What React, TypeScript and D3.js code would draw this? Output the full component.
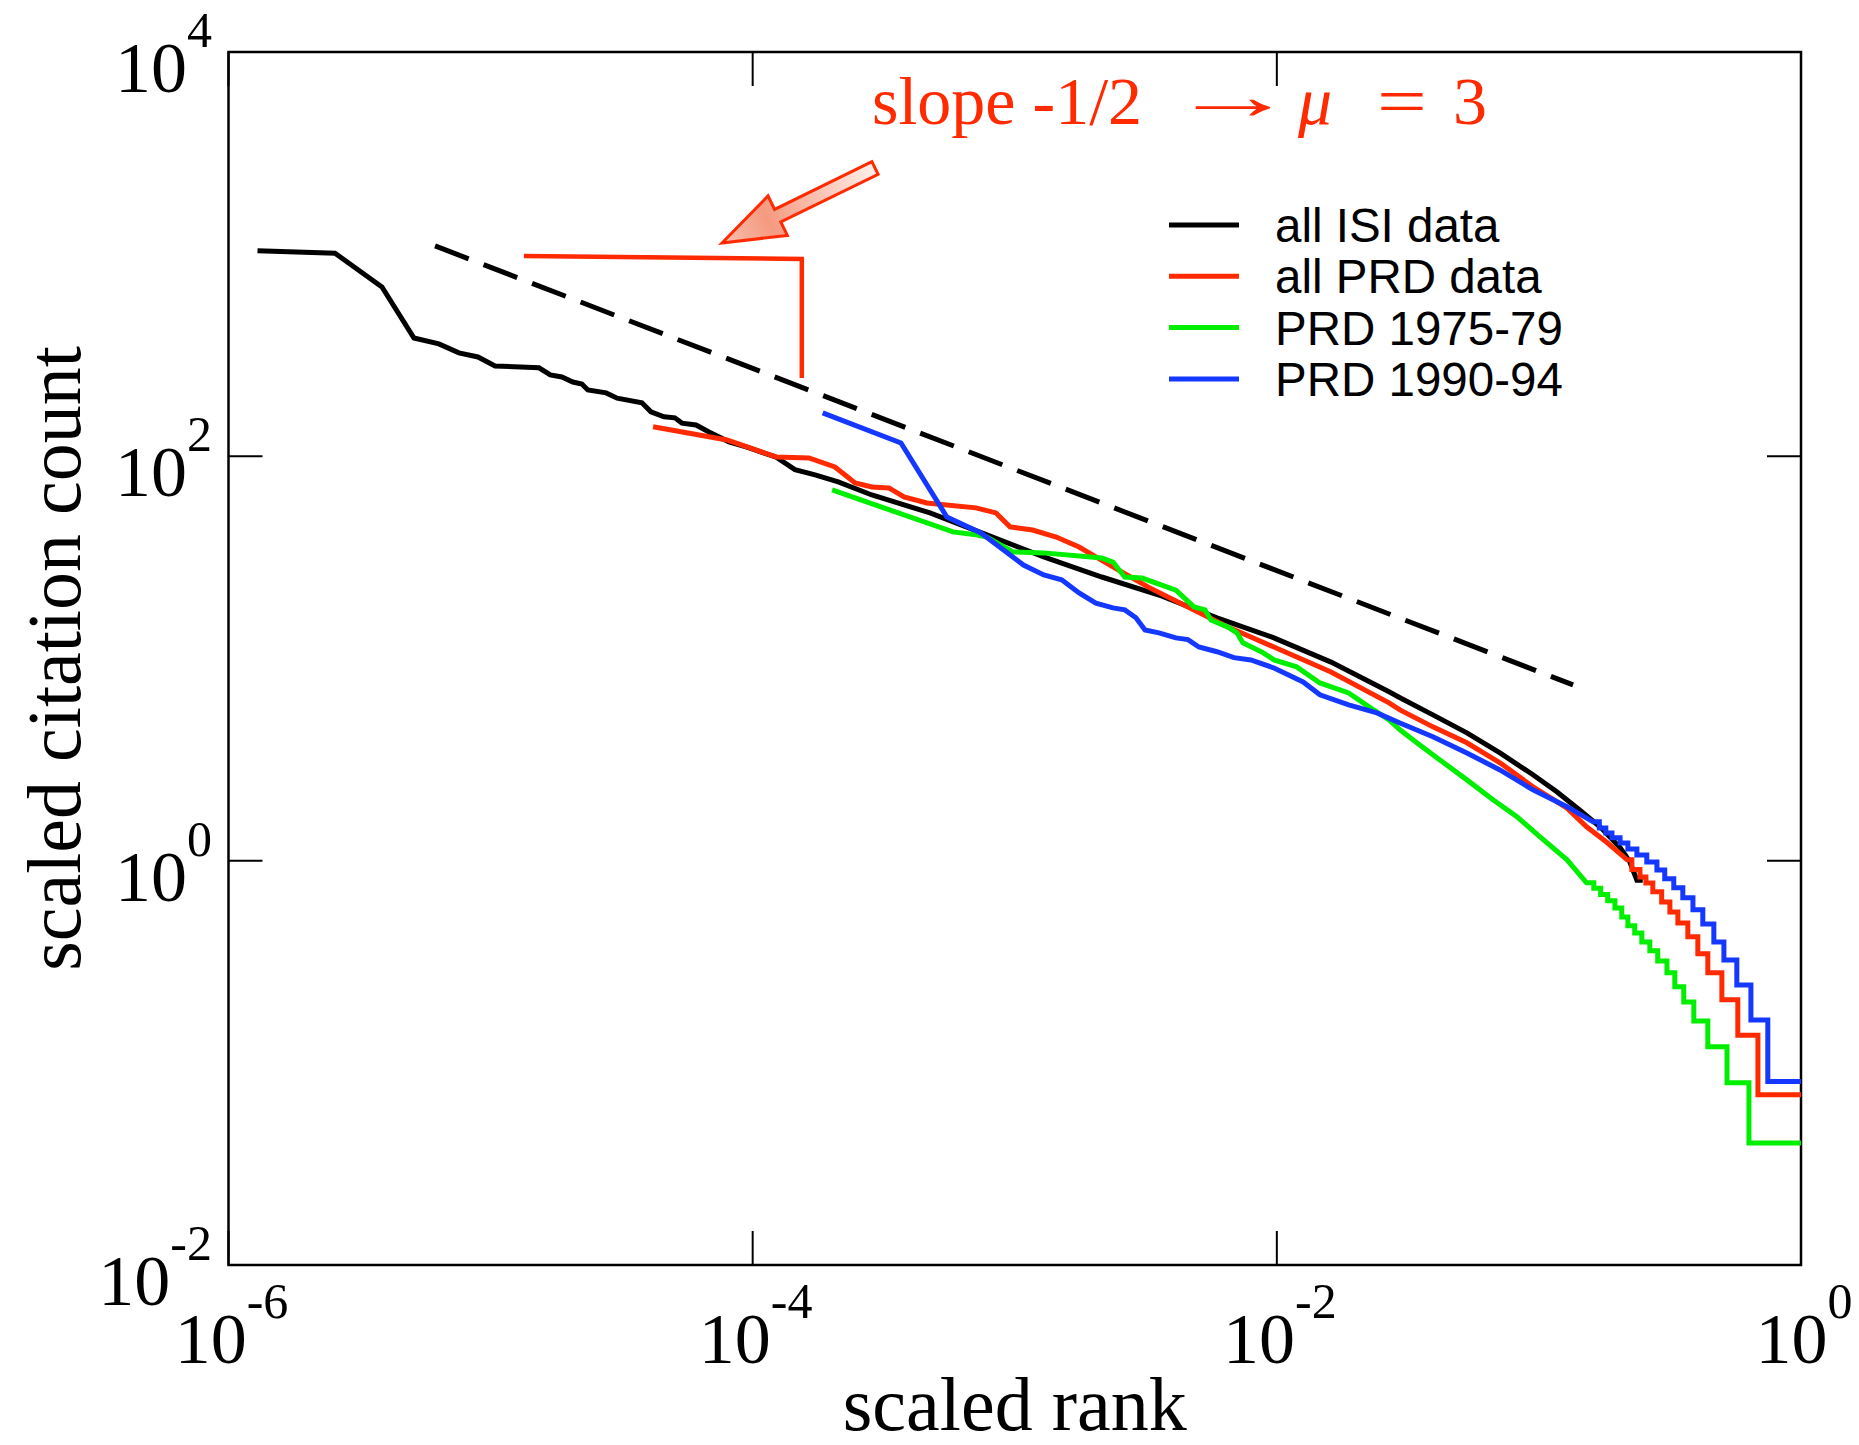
import React from "react";
import * as d3 from "d3";

type Pt = [number, number];

// log-log axes: scaled rank vs scaled citation count
const xTicks = [1e-6, 1e-4, 1e-2, 1];
const xTickExp = ["-6", "-4", "-2", "0"];
const yTicks = [1e-2, 1, 1e2, 1e4];
const yTickExp = ["-2", "0", "2", "4"];

const seriesNames = ["all ISI data", "all PRD data", "PRD 1975-79", "PRD 1990-94"];
const seriesColors = ["#000000", "#ff2a00", "#00ee00", "#1438ff"];

// --- all ISI data (rank, count) ---
const isiBody: Pt[] = [
  [1.29e-6, 1040], [2.55e-6, 1010], [3.85e-6, 688], [5.1e-6, 385], [6.35e-6, 360],
  [7.57e-6, 325], [8.95e-6, 310], [1.04e-5, 280], [1.53e-5, 274], [1.69e-5, 253],
  [1.87e-5, 247], [2.06e-5, 233], [2.23e-5, 228], [2.35e-5, 213], [2.76e-5, 206],
  [3.04e-5, 194], [3.78e-5, 184], [4.09e-5, 166], [4.59e-5, 157], [5.05e-5, 155],
  [5.37e-5, 146], [6.08e-5, 143], [6.81e-5, 132], [8.12e-5, 118], [9.51e-5, 111],
  [1.1e-4, 104], [1.23e-4, 99], [1.45e-4, 86], [1.73e-4, 81], [2.12e-4, 74.7],
  [2.85e-4, 64.4], [4.75e-4, 52.5], [7.83e-4, 40.9], [1.29e-3, 31.8], [2.15e-3, 25.3],
  [3.55e-3, 20.6], [5.91e-3, 15.9], [9.75e-3, 12.65], [1.61e-2, 9.6], [2.68e-2, 6.84],
  [2.95e-2, 6.4], [3.94e-2, 5.26], [5.31e-2, 4.29], [7.1e-2, 3.41], [9.49e-2, 2.66],
  [0.117, 2.19], [0.143, 1.78], [0.171, 1.47], [0.204, 1.16], [0.222, 0.99],
  [0.2365, 0.8], [0.249, 0.8],
];
const isiTail: Pt[] = [];

// --- all PRD data ---
const prdBody: Pt[] = [
  [4.17e-5, 140], [7.98e-5, 120.5], [1.23e-4, 99.3], [1.64e-4, 98.2], [2.06e-4, 88.6],
  [2.46e-4, 73.9], [2.85e-4, 70.6], [3.31e-4, 69.8], [3.78e-4, 63.0], [4.62e-4, 58.8],
  [7.11e-4, 55.6], [8.48e-4, 52.5], [9.59e-4, 44.8], [1.17e-3, 43.2], [1.44e-3, 39.9],
  [1.76e-3, 35.6], [2.04e-3, 31.8], [2.37e-3, 28.4], [3.22e-3, 22.6], [4.58e-3, 18.0],
  [6.51e-3, 14.3], [9.75e-3, 11.4], [1.61e-2, 8.58], [2.68e-2, 6.03], [2.95e-2, 5.57],
  [3.94e-2, 4.59], [5.31e-2, 3.83], [7.1e-2, 3.05], [9.49e-2, 2.32], [0.128, 1.82],
  [0.152, 1.47], [0.182, 1.23], [0.217, 1.01],
];
const prdTail: Pt[] = [
  [0.217, 1.01], [0.2263, 0.904], [0.243, 0.831], [0.256, 0.776], [0.272, 0.701],
  [0.294, 0.625], [0.316, 0.558], [0.339, 0.492], [0.37, 0.42], [0.404, 0.346],
  [0.441, 0.279], [0.499, 0.205], [0.574, 0.137], [0.685, 0.0695], [1.0, 0.0695],
];

// --- PRD 1975-79 ---
const prd75Body: Pt[] = [
  [2.01e-4, 68.2], [5.81e-4, 42.3], [7.11e-4, 40.9], [7.83e-4, 39.9], [9.84e-4, 33.7],
  [1.29e-3, 33.3], [2.15e-3, 31.4], [2.37e-3, 30.0], [2.63e-3, 25.3], [3.06e-3, 25.0],
  [4.12e-3, 21.8], [4.83e-3, 18.0], [5.32e-3, 17.4], [5.61e-3, 15.5], [6.51e-3, 14.3],
  [7.04e-3, 13.4], [7.42e-3, 11.95], [8.85e-3, 10.7], [9.75e-3, 9.84], [1.19e-2, 9.09],
  [1.46e-2, 7.57], [1.88e-2, 6.76], [2.19e-2, 5.9], [2.68e-2, 4.97], [2.95e-2, 4.44],
  [3.42e-2, 3.83], [4.19e-2, 3.15], [5.31e-2, 2.51], [6.68e-2, 2.0], [8.24e-2, 1.65],
  [0.101, 1.31], [0.128, 1.01], [0.152, 0.777],
];
const prd75Tail: Pt[] = [
  [0.152, 0.777], [0.162, 0.73], [0.172, 0.68], [0.183, 0.633], [0.195, 0.584],
  [0.207, 0.527], [0.2185, 0.476], [0.232, 0.439], [0.247, 0.396], [0.265, 0.358],
  [0.284, 0.319], [0.308, 0.279], [0.33, 0.238], [0.357, 0.2], [0.39, 0.161],
  [0.441, 0.12], [0.522, 0.0796], [0.633, 0.0401], [1.0, 0.0401],
];

// --- PRD 1990-94 ---
const prd90Body: Pt[] = [
  [1.85e-4, 164], [3.68e-4, 116.5], [5.51e-4, 50.1], [7.43e-4, 41.8], [1.08e-3, 29.0],
  [1.29e-3, 25.9], [1.51e-3, 24.5], [1.76e-3, 21.1], [2.04e-3, 18.8], [2.37e-3, 17.8],
  [2.63e-3, 17.4], [2.9e-3, 15.9], [3.14e-3, 13.85], [3.55e-3, 13.4], [4.12e-3, 12.65],
  [4.58e-3, 12.4], [5.04e-3, 11.4], [5.91e-3, 10.8], [6.86e-3, 10.1], [7.96e-3, 9.84],
  [9.75e-3, 8.98], [1.26e-2, 7.66], [1.46e-2, 6.61], [1.88e-2, 5.9], [2.41e-2, 5.38],
  [2.95e-2, 4.8], [3.94e-2, 4.1], [5.31e-2, 3.41], [7.1e-2, 2.81], [9.49e-2, 2.24],
  [0.128, 1.85], [0.161, 1.556],
];
const prd90Tail: Pt[] = [
  [0.161, 1.556], [0.17, 1.45], [0.18, 1.37], [0.19, 1.297], [0.204, 1.224],
  [0.2185, 1.143], [0.2365, 1.068], [0.258, 0.986], [0.282, 0.9], [0.302, 0.813],
  [0.327, 0.734], [0.354, 0.655], [0.387, 0.571], [0.422, 0.486], [0.465, 0.396],
  [0.508, 0.323], [0.569, 0.243], [0.644, 0.163], [0.747, 0.0808], [1.0, 0.0808],
];

// slope -1/2 guide and annotation anchors (data coordinates)
const guideLine: Pt[] = [[6.14e-6, 1099], [0.135, 7.4]];
const slopeBracket: Pt[] = [[1.34e-5, 980], [1.54e-4, 947], [1.54e-4, 244]];
const arrowFrom: Pt = [2.93e-4, 2669];
const arrowTo: Pt = [7.64e-5, 1136];

const W = 1859;
const H = 1445;
const left = 228.5, right = 1801, top = 52, bottom = 1265;
const serif = "'Liberation Serif', 'Times New Roman', Times, serif";
const sans = "'Liberation Sans', Arial, Helvetica, sans-serif";
const red = "#ff2a00";

export default function App() {
  const x = d3.scaleLog().domain([1e-6, 1]).range([left, right]);
  const y = d3.scaleLog().domain([1e-2, 1e4]).range([bottom, top]);

  const lin = d3.line<Pt>().x((d) => x(d[0])).y((d) => y(d[1]));
  const stp = d3
    .line<Pt>()
    .x((d) => x(d[0]))
    .y((d) => y(d[1]))
    .curve(d3.curveStepAfter);

  const seriesPath = (body: Pt[], tail: Pt[]) => {
    let p = lin(body) ?? "";
    if (tail.length) p += (stp(tail) ?? "").replace(/^M/, "L");
    return p;
  };

  const series = [
    seriesPath(isiBody, isiTail),
    seriesPath(prdBody, prdTail),
    seriesPath(prd75Body, prd75Tail),
    seriesPath(prd90Body, prd90Tail),
  ];

  // block arrow pointing at the slope bracket
  const sx = x(arrowFrom[0]), sy = y(arrowFrom[1]);
  const tx = x(arrowTo[0]), ty = y(arrowTo[1]);
  const len = Math.hypot(tx - sx, ty - sy);
  const ux = (tx - sx) / len, uy = (ty - sy) / len;
  const nx = -uy, ny = ux;
  const headLen = 62, headW = 22, shaftW = 7;
  const bx = tx - ux * headLen, by = ty - uy * headLen;
  const arrowPts = [
    [sx + nx * shaftW, sy + ny * shaftW],
    [bx + nx * shaftW, by + ny * shaftW],
    [bx + nx * headW, by + ny * headW],
    [tx, ty],
    [bx - nx * headW, by - ny * headW],
    [bx - nx * shaftW, by - ny * shaftW],
    [sx - nx * shaftW, sy - ny * shaftW],
  ]
    .map((p) => p.join(","))
    .join(" ");

  const tickLen = 34;

  return (
    <svg
      width={W}
      height={H}
      style={{ position: "absolute", left: 0, top: 0, display: "block" }}
    >
      <defs>
        <linearGradient
          id="arrowFill"
          gradientUnits="userSpaceOnUse"
          x1={sx}
          y1={sy}
          x2={tx}
          y2={ty}
        >
          <stop offset="0%" stopColor="#fff0ea" />
          <stop offset="70%" stopColor="#f59a80" />
          <stop offset="100%" stopColor="#f8c0b0" />
        </linearGradient>
      </defs>
      <rect width={W} height={H} fill="#fff" />

      {/* frame */}
      <rect
        x={left}
        y={top}
        width={right - left}
        height={bottom - top}
        fill="none"
        stroke="#000"
        strokeWidth={2.5}
      />

      {/* ticks */}
      {xTicks.map((t) => (
        <g key={"xt" + t} stroke="#000" strokeWidth={2}>
          <line x1={x(t)} x2={x(t)} y1={bottom} y2={bottom - tickLen} />
          <line x1={x(t)} x2={x(t)} y1={top} y2={top + tickLen} />
        </g>
      ))}
      {yTicks.map((t) => (
        <g key={"yt" + t} stroke="#000" strokeWidth={2}>
          <line x1={left} x2={left + tickLen} y1={y(t)} y2={y(t)} />
          <line x1={right} x2={right - tickLen} y1={y(t)} y2={y(t)} />
        </g>
      ))}

      {/* tick labels */}
      {xTicks.map((t, i) => (
        <text
          key={"xl" + t}
          x={x(t) + 3}
          y={bottom + 98}
          textAnchor="middle"
          fontFamily={serif}
          fontSize={72}
        >
          10
          <tspan dy={-45} fontSize={50}>
            {xTickExp[i]}
          </tspan>
        </text>
      ))}
      {yTicks.map((t, i) => (
        <text
          key={"yl" + t}
          x={212}
          y={y(t) + 40}
          textAnchor="end"
          fontFamily={serif}
          fontSize={72}
        >
          10
          <tspan dy={-45} fontSize={50}>
            {yTickExp[i]}
          </tspan>
        </text>
      ))}

      {/* axis titles */}
      <text
        x={(left + right) / 2}
        y={1430}
        textAnchor="middle"
        fontFamily={serif}
        fontSize={76}
      >
        scaled rank
      </text>
      <text
        transform={`translate(80,${(top + bottom) / 2}) rotate(-90)`}
        textAnchor="middle"
        fontFamily={serif}
        fontSize={76}
      >
        scaled citation count
      </text>

      {/* slope guide */}
      <path
        d={lin(guideLine) ?? ""}
        fill="none"
        stroke="#000"
        strokeWidth={5}
        strokeDasharray="36 16"
      />

      {/* data series */}
      {series.map((d, i) => (
        <path
          key={seriesNames[i]}
          d={d}
          fill="none"
          stroke={seriesColors[i]}
          strokeWidth={5}
          strokeLinejoin="miter"
        />
      ))}

      {/* slope bracket + arrow */}
      <path
        d={lin(slopeBracket) ?? ""}
        fill="none"
        stroke={red}
        strokeWidth={4.5}
      />
      <polygon
        points={arrowPts}
        fill="url(#arrowFill)"
        stroke={red}
        strokeWidth={3}
        strokeLinejoin="miter"
      />

      {/* annotation */}
      <g fill={red} fontFamily={serif} fontSize={68}>
        <text x={872} y={124}>slope -1/2</text>
        <text transform="translate(1170,119) scale(1.85,1)">→</text>
        <text x={1298} y={124} fontStyle="italic">μ</text>
        <text transform="translate(1377,124) scale(1.3,1)">=</text>
        <text x={1453} y={124}>3</text>
      </g>

      {/* legend */}
      {seriesNames.map((name, i) => {
        const ly = 225 + i * 51.3;
        return (
          <g key={"lg" + name}>
            <line
              x1={1169}
              x2={1239}
              y1={ly}
              y2={ly}
              stroke={seriesColors[i]}
              strokeWidth={5}
            />
            <text x={1275} y={ly + 17} fontFamily={sans} fontSize={47.5}>
              {name}
            </text>
          </g>
        );
      })}
    </svg>
  );
}
